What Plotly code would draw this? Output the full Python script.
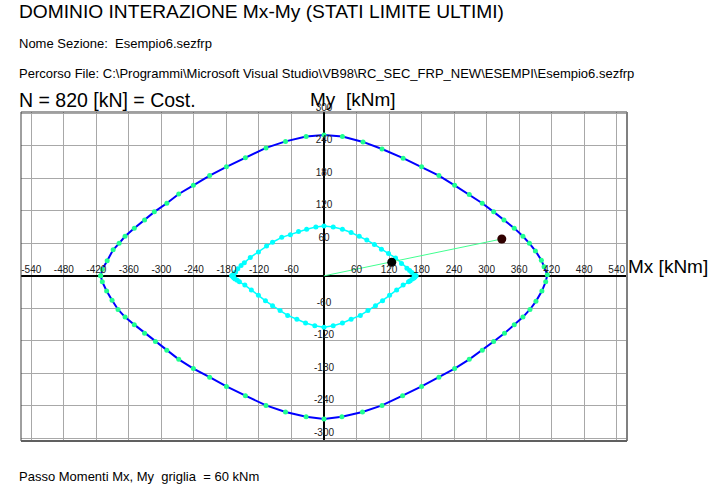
import plotly.graph_objects as go

# Dominio esterno (contorno blu) - [kNm]
outer_mx = [-412, -409, -400, -389, -378, -367, -350, -331, -313, -290, -268, -241, -211, -180, -145, -107, -71, -33,
            0, 34, 72, 107, 146, 180, 212, 241, 268, 292, 313, 332, 351, 367, 379, 390, 401, 406, 412,
            409, 402, 391, 380, 367, 351, 333, 313, 292, 268, 241, 212, 180, 145, 107, 71, 33,
            0, -33, -71, -107, -145, -180, -211, -241, -268, -290, -311, -331, -350, -367, -380, -391, -401, -409, -412]
outer_my = [0, 12, 28, 48, 60, 73, 88, 103, 118, 134, 151, 167, 185, 201, 218, 236, 248, 257,
            260, 257, 247, 234, 217, 201, 185, 167, 150, 134, 118, 103, 88, 73, 60, 46, 29, 17, 2,
            -11, -28, -47, -62, -76, -90, -106, -121, -137, -154, -171, -187, -204, -221, -239, -251, -260,
            -264, -260, -251, -239, -221, -204, -187, -171, -154, -137, -121, -106, -90, -76, -62, -45, -28, -11, 0]

# Dominio interno (contorno ciano)
inner_mx = [-170, -168, -166, -163, -159, -153, -147, -136, -121, -106, -95, -78, -62, -47, -32, -15,
            0, 17, 34, 50, 65, 79, 93, 106, 119, 132, 143, 153, 158, 162, 166, 168, 170,
            168, 166, 163, 159, 156, 146, 134, 121, 108, 95, 81, 67, 50, 34, 17,
            0, -17, -34, -50, -67, -81, -95, -108, -121, -134, -146, -156, -160, -164, -166, -168, -170]
inner_my = [0, 2, 4, 7, 13, 19, 24, 34, 44, 55, 62, 71, 76, 82, 86, 90,
            92, 90, 86, 80, 73, 66, 58, 49, 41, 33, 23, 14, 10, 6, 3, 1, 0,
            -2, -4, -6, -9, -11, -17, -26, -36, -46, -55, -64, -73, -80, -87, -92,
            -95, -92, -87, -80, -73, -64, -55, -46, -36, -26, -17, -11, -8, -6, -4, -2, 0]

# Punto di sollecitazione e punto sul dominio
pt_sd = (125, 25)
pt_rd = (328, 68)

# Griglia / etichette assi
passo = 60
x_ticks = [v for v in range(-540, 541, passo) if v != 0]
y_ticks = [v for v in range(-300, 301, passo) if v != 0]

FONT = "Arial, Liberation Sans, sans-serif"
NBSP = "\u00a0"

fig = go.Figure()

fig.add_trace(go.Scatter(
    x=outer_mx, y=outer_my, mode="lines+markers",
    line=dict(color="#0000ff", width=2),
    marker=dict(color="#20ff90", size=5),
    hoverinfo="skip"))

fig.add_trace(go.Scatter(
    x=inner_mx, y=inner_my, mode="lines+markers",
    line=dict(color="#00ffff", width=1.5),
    marker=dict(color="#00ffff", size=5),
    hoverinfo="skip"))

fig.add_trace(go.Scatter(
    x=[0, pt_rd[0]], y=[0, pt_rd[1]], mode="lines",
    line=dict(color="#40ff90", width=1), hoverinfo="skip"))

fig.add_trace(go.Scatter(
    x=[pt_sd[0]], y=[pt_sd[1]], mode="markers",
    marker=dict(color="black", size=9), hoverinfo="skip"))
fig.add_trace(go.Scatter(
    x=[pt_rd[0]], y=[pt_rd[1]], mode="markers",
    marker=dict(color="#300000", size=9), hoverinfo="skip"))

# etichette sugli assi (al centro del grafico)
fig.add_trace(go.Scatter(
    x=x_ticks, y=[0] * len(x_ticks), mode="text",
    text=[str(v) for v in x_ticks], textposition="top center",
    textfont=dict(family=FONT, size=10, color="#202020"),
    cliponaxis=False, hoverinfo="skip"))
fig.add_trace(go.Scatter(
    x=[0] * len(y_ticks), y=y_ticks, mode="text",
    text=[str(v) for v in y_ticks], textposition="top center",
    textfont=dict(family=FONT, size=10, color="#202020"),
    cliponaxis=False, hoverinfo="skip"))

fig.update_xaxes(range=[-559, 559], dtick=passo, tick0=0, showgrid=True,
                 gridcolor="#a8a8a8", gridwidth=1, zeroline=True,
                 zerolinecolor="black", zerolinewidth=2, showticklabels=False,
                 ticks="", fixedrange=True)
fig.update_yaxes(range=[-304.6, 302.2], dtick=passo, tick0=0, showgrid=True,
                 gridcolor="#a8a8a8", gridwidth=1, zeroline=True,
                 zerolinecolor="black", zerolinewidth=2, showticklabels=False,
                 ticks="", fixedrange=True)

# bordo del riquadro
fig.add_shape(type="line", xref="paper", yref="paper", x0=0, x1=0, y0=0, y1=1,
              line=dict(color="#404040", width=1))
fig.add_shape(type="line", xref="paper", yref="paper", x0=0, x1=1, y0=1, y1=1,
              line=dict(color="#404040", width=1))
fig.add_shape(type="line", xref="paper", yref="paper", x0=1, x1=1, y0=0, y1=1,
              line=dict(color="#808080", width=2))
fig.add_shape(type="line", xref="paper", yref="paper", x0=0, x1=1, y0=0, y1=0,
              line=dict(color="#606060", width=2))

def testo(txt, x, y, size):
    fig.add_annotation(text=txt.replace("  ", NBSP * 2), xref="paper", yref="paper", x=x, y=y,
                       xanchor="left", yanchor="middle", showarrow=False,
                       font=dict(family=FONT, size=size, color="black"))

testo("DOMINIO INTERAZIONE Mx-My (STATI LIMITE ULTIMI)", -0.006, 1.304, 19.2)
testo("Nome Sezione:  Esempio6.sezfrp", -0.006, 1.207, 13)
testo("Percorso File: C:\\Programmi\\Microsoft Visual Studio\\VB98\\RC_SEC_FRP_NEW\\ESEMPI\\Esempio6.sezfrp",
      -0.006, 1.1185, 13)
testo("N = 820 [kN] = Cost.", -0.006, 1.0365, 19.5)
testo("My  [kNm]", 0.473, 1.0365, 19)
testo("Mx [kNm]", 0.998, 0.53, 19)
testo("Passo Momenti Mx, My  griglia  = 60 kNm", -0.006, -0.109, 13)

fig.update_layout(
    width=711, height=484,
    margin=dict(l=21, r=84, t=112, b=43),
    paper_bgcolor="white", plot_bgcolor="white",
    showlegend=False,
)

# nessun margine della pagina attorno alla figura, niente barra strumenti
fig.write_html("out.html", config={"displayModeBar": False},
               post_script="document.body.style.margin='0';")
